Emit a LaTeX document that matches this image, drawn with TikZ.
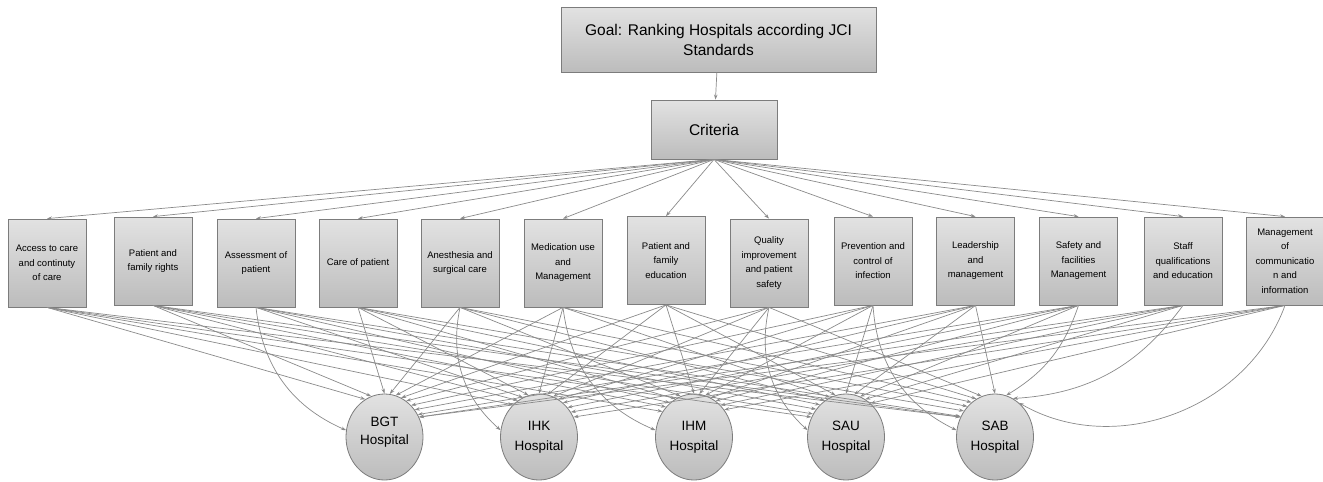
\documentclass[tikz,border=0pt]{standalone}
\usepackage{fontspec}
\setmainfont{Liberation Sans}
\usetikzlibrary{shapes.geometric,arrows.meta}
\definecolor{edgecol}{HTML}{8A8A8A}
\definecolor{bordercol}{HTML}{7C7C7C}
\definecolor{topfill}{HTML}{E2E2E2}
\definecolor{botfill}{HTML}{BCBCBC}
\begin{document}
\begin{tikzpicture}[x=1pt,y=-1pt,
  boxbase/.style={draw=bordercol, line width=0.8pt, top color=topfill, bottom color=botfill, align=center, inner sep=1pt},
  goalbox/.style={boxbase, minimum width=315pt, minimum height=65pt, font=\fontsize{15.5}{20}\selectfont},
  critmain/.style={boxbase, minimum width=126pt, minimum height=59pt, font=\fontsize{15.5}{20}\selectfont},
  crit/.style={boxbase, minimum width=78pt, minimum height=88pt, font=\fontsize{9.5}{14.5}\selectfont},
  hosp/.style={boxbase, ellipse, minimum width=77pt, minimum height=86pt, font=\fontsize{13.5}{20}\selectfont},
  edge/.style={draw=edgecol, line width=0.7pt, -{Stealth[length=5pt,width=3.5pt]}}
]
\useasboundingbox (0,0) rectangle (1323,482);

\node[goalbox] (goal) at (718.5,39.5) {Goal: Ranking Hospitals according JCI\\Standards};
\node[critmain] (crit) at (714,129.5) {Criteria};

\node[crit] (c1)  at (47,263)   {Access to care\\and continuty\\of care};
\node[crit] (c2)  at (153,261)  {Patient and\\family rights};
\node[crit] (c3)  at (256,263)  {Assessment of\\patient};
\node[crit] (c4)  at (358,263)  {Care of patient};
\node[crit] (c5)  at (460,263)  {Anesthesia and\\surgical care};
\node[crit] (c6)  at (563,263)  {Medication use\\and\\Management};
\node[crit] (c7)  at (666,260.5){Patient and\\family\\education};
\node[crit] (c8)  at (769,263)  {Quality\\improvement\\and patient\\safety};
\node[crit] (c9)  at (873,261)  {Prevention and\\control of\\infection};
\node[crit] (c10) at (975.5,261){Leadership\\and\\management};
\node[crit] (c11) at (1078.5,261){Safety and\\facilities\\Management};
\node[crit] (c12) at (1183,261) {Staff\\qualifications\\and education};
\node[crit] (c13) at (1285,261) {Management\\of\\communicatio\\n and\\information};

\node[hosp] (h1) at (384.5,437) {\raisebox{12pt}{\shortstack{BGT\\[5pt]Hospital}}};
\node[hosp] (h2) at (539,437) {IHK\\Hospital};
\node[hosp] (h3) at (694,437) {IHM\\Hospital};
\node[hosp] (h4) at (846,437) {SAU\\Hospital};
\node[hosp] (h5) at (995,437) {SAB\\Hospital};

\draw[edge] (goal) -- (crit);
\foreach \i in {1,...,13}{
  \draw[edge] (crit.south) -- (c\i.north);
}

\foreach \i in {1,...,13}{
  \foreach \j in {1,...,5}{
    \pgfmathsetmacro\dx{{384.5,539,694,846,995}[\j-1]-{47,153,256,358,460,563,666,769,873,975.5,1078.5,1183,1285}[\i-1]}
    \pgfmathsetmacro\ang{max(30,min(150,90+0.08*\dx))}
    \pgfmathsetmacro\bnd{and(\dx>30,\dx<140) ? 30 : 0}
    \pgfmathsetmacro\ang{and(\dx>30,\dx<140) ? 170 : \ang}
    \pgfmathsetmacro\ang{abs(\dx)<=30 ? 90 : \ang}
    \pgfmathtruncatemacro\skipit{(\j==5 && \i>10) ? 1 : 0}
    \ifnum\skipit=0
      \draw[edge] (c\i.south) to[bend right=\bnd] (h\j.\ang);
    \fi
  }
}
\draw[edge] (c11.south) to[bend left=20] (h5.75);
\draw[edge] (c12.south) to[bend left=25] (h5.65);
\draw[edge] (c13.south) to[out=-110,in=-30] (h5.55);
\end{tikzpicture}
\end{document}
